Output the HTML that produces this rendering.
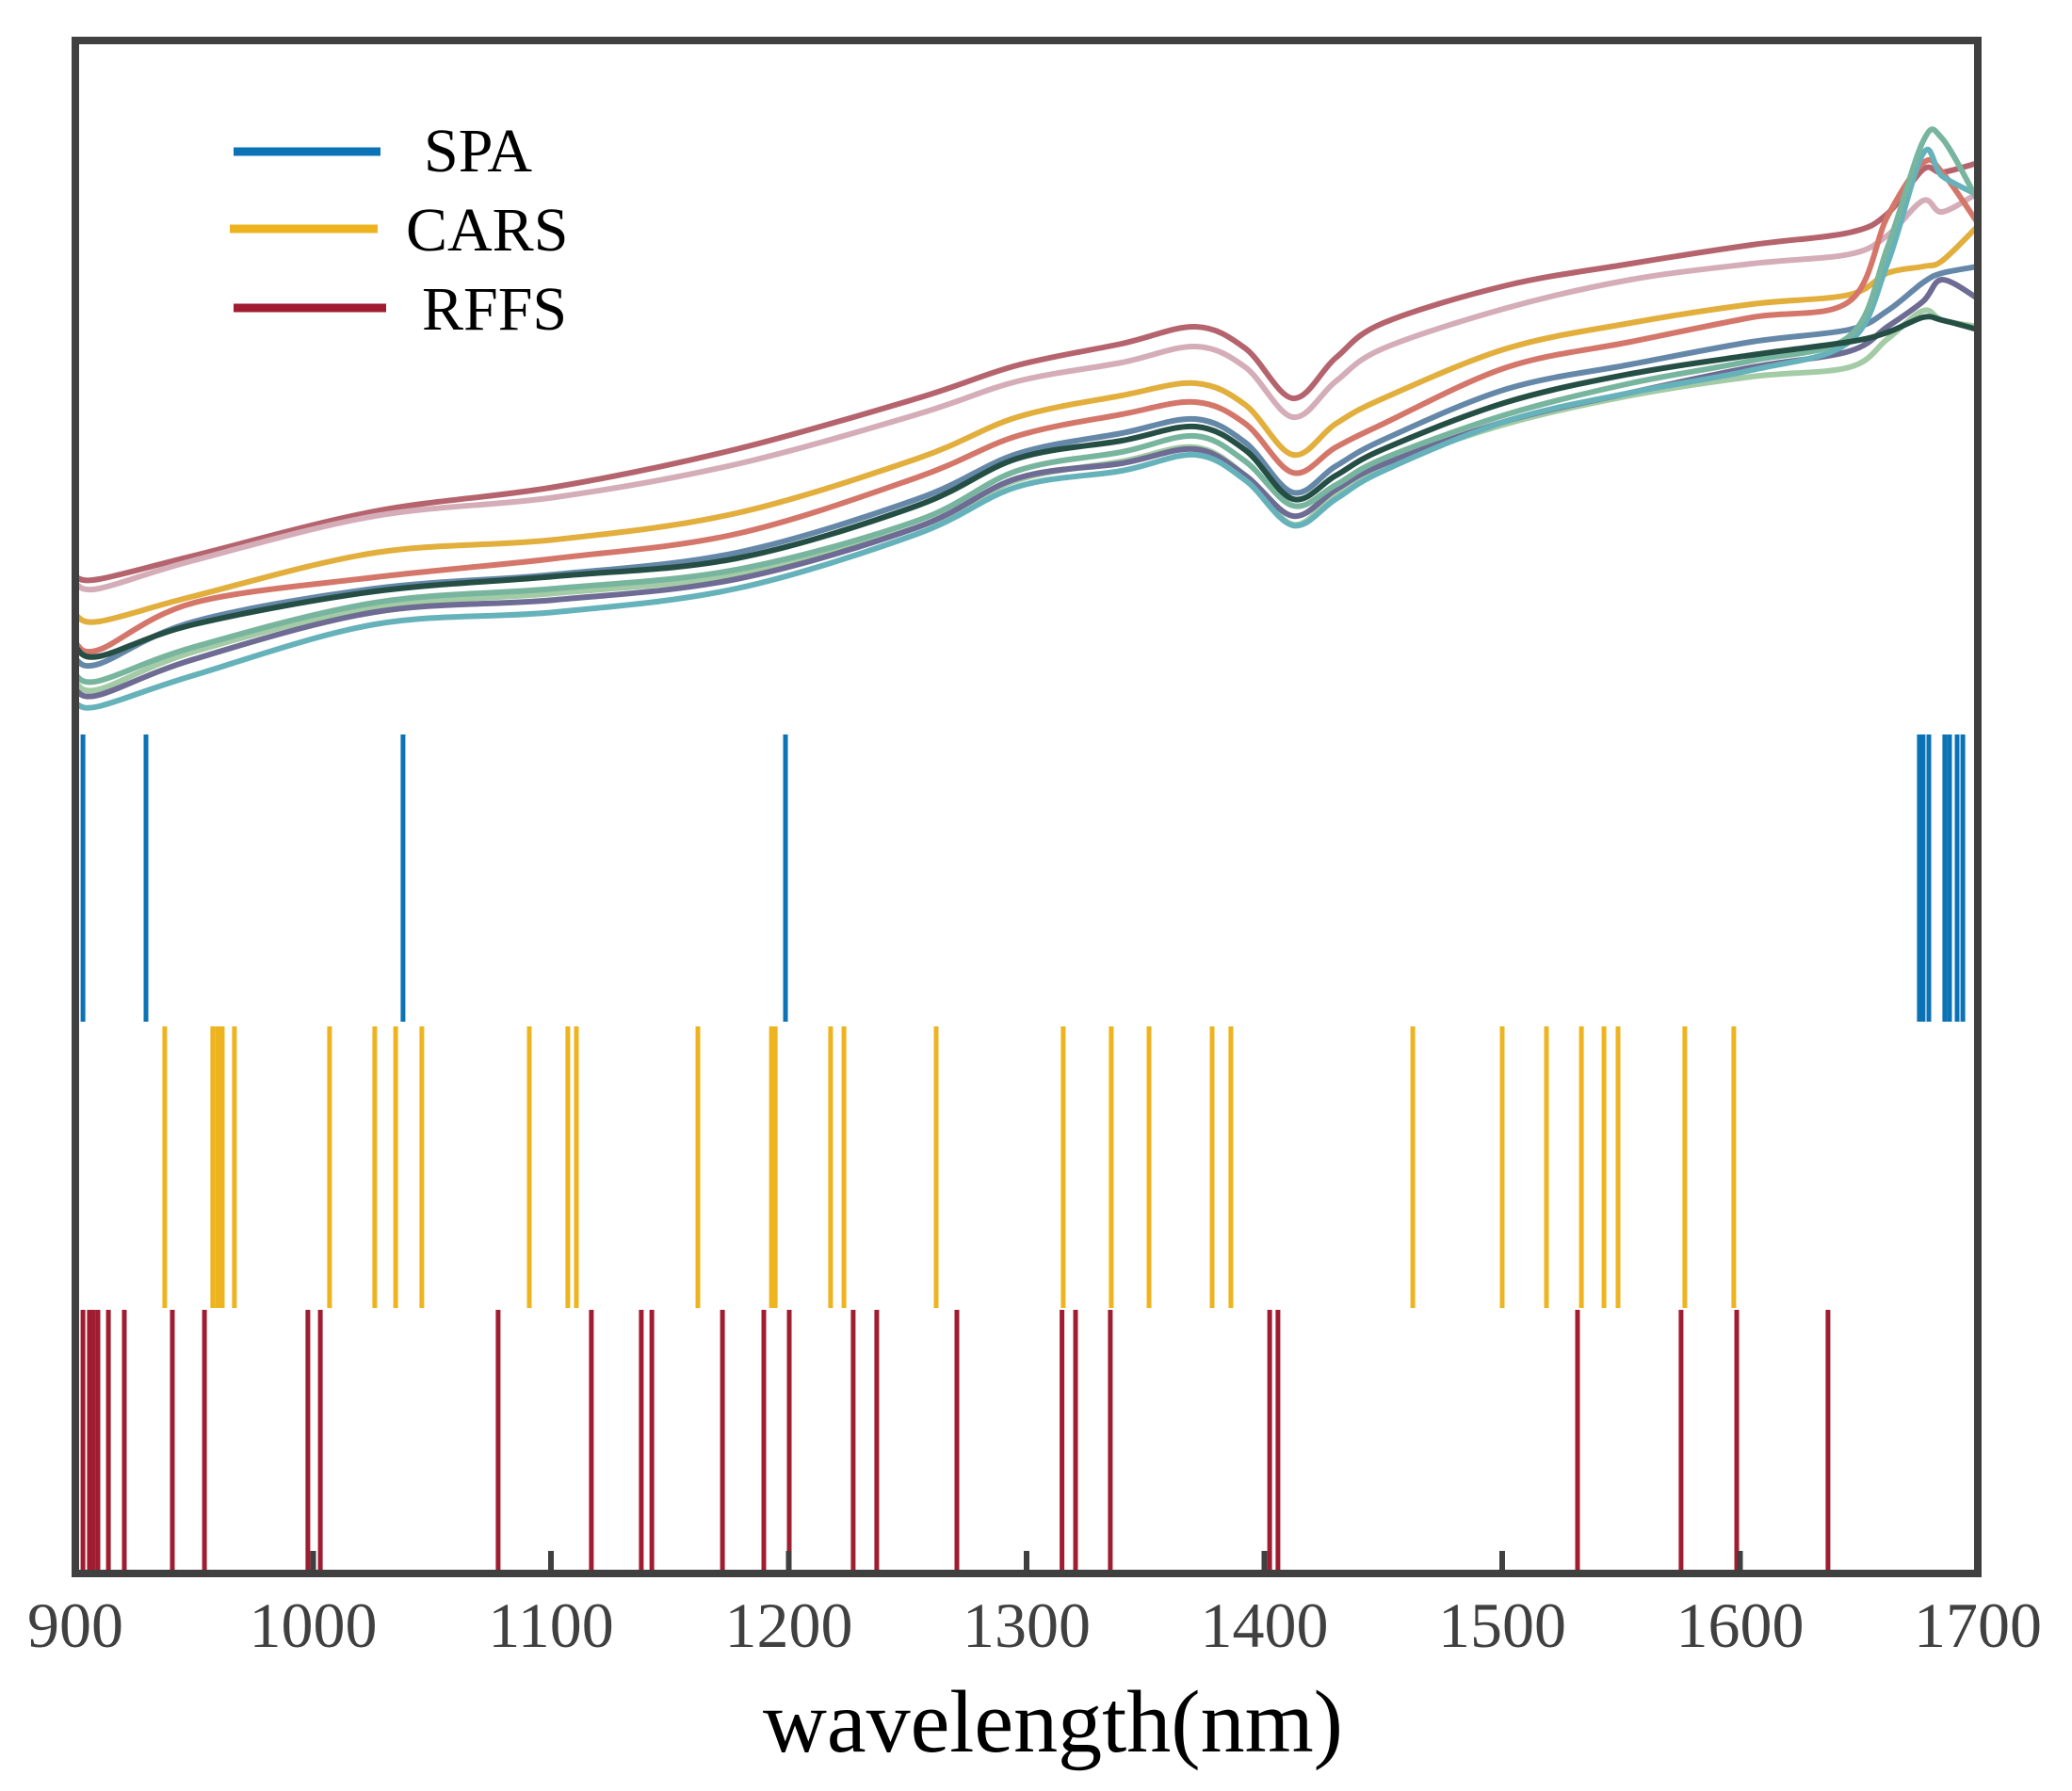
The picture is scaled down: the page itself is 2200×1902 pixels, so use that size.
<!DOCTYPE html>
<html><head><meta charset="utf-8"><style>
html,body{margin:0;padding:0;background:#fff;}
svg{display:block;}
text{font-family:"Liberation Serif","Times New Roman",serif;}
</style></head><body>
<svg id="chart" width="2200" height="1902" viewBox="0 0 2200 1902" xmlns="http://www.w3.org/2000/svg">
<rect x="0" y="0" width="2200" height="1902" fill="#fff"/>
<g id="spectra"></g>
<g id="bars"></g>
<g id="ticks"></g>
<rect x="80" y="43" width="2020" height="1628" fill="none" stroke="#404040" stroke-width="8"/>
<g id="legend">
  <g>
    <line x1="248" y1="161" x2="404" y2="161" stroke="#0b72b5" stroke-width="9"/>
    <text x="450" y="182" font-size="66" fill="#000">SPA</text>
  </g>
  <g>
    <line x1="244" y1="243" x2="401" y2="243" stroke="#eeb420" stroke-width="9"/>
    <text x="431" y="266" font-size="66" fill="#000">CARS</text>
  </g>
  <g>
    <line x1="248" y1="327" x2="410" y2="327" stroke="#a01c30" stroke-width="9"/>
    <text x="448" y="350" font-size="66" fill="#000">RFFS</text>
  </g>
</g>
<text x="1118" y="1860" font-size="94" text-anchor="middle" fill="#000">wavelength(nm)</text>
</svg>
<script>
const wavelengthKnots = [900,910,950,1026,1102,1178,1254,1296,1340,1371,1392,1412,1430,1450,1502,1554,1605,1646,1662,1677,1685,1700];
const spectrumRose   = [387,385,410,457,483,523,577,612,635,653,630,577,620,657,697,720,740,753,773,820,817,827];
const spectrumPink   = [380,375,405,452,472,507,560,595,615,632,610,557,595,630,673,703,720,730,750,787,775,795];
const spectrumYellow = [347,340,367,413,427,455,513,557,580,593,570,517,550,577,630,657,677,687,710,717,723,760];
const spectrumSalmon = [317,310,360,387,407,433,493,537,560,573,550,498,525,550,610,637,663,680,770,827,817,763];
const spectrumSteel  = [300,295,340,375,390,413,470,518,540,555,530,477,505,533,587,613,637,650,670,700,710,717];
const spectrumLightGreen = [275,268,308,355,370,390,440,490,510,525,495,443,475,505,550,580,600,610,640,670,660,653];
const spectrumPurple = [267,262,300,350,363,385,440,492,508,523,495,452,480,507,553,583,610,627,653,680,703,683];
const spectrumCyan   = [253,250,283,337,350,375,433,483,500,517,490,442,470,500,553,583,607,637,720,837,813,793];
const spectrumTeal   = [283,277,313,360,375,395,447,500,520,537,510,463,485,513,560,593,617,643,737,850,853,787];
const spectrumDark   = [313,303,337,372,388,407,463,513,532,547,522,470,495,523,573,603,623,637,647,663,660,650];
const spectrumNames = ['rose','pink','yellow','salmon','steel','light-green','purple','cyan','teal','dark-green'];
const spectrumColors = ['#b5646e','#d4adb9','#e2ae3c','#d4776a','#6588a8','#a3cba5','#6e6b94','#66b2ba','#78b59f','#254f45'];
const spaWavelengths = [903.2,929.7,1037.8,1198.6,1675.4,1677.0,1679.4,1686.1,1688.1,1691.3,1693.7];
const carsWavelengths = [937.6,957.8,959.8,961.8,966.9,1006.9,1025.9,1034.7,1045.7,1090.9,1107.1,1110.7,1161.8,1192.7,1194.3,1217.6,1223.2,1262.0,1315.4,1335.6,1351.5,1378.0,1385.9,1462.4,1500.0,1518.6,1533.3,1542.8,1548.7,1576.8,1597.4];
const rffsWavelengths = [903.2,905.9,907.5,909.5,913.9,920.6,940.8,954.3,997.8,1003.0,1077.8,1117.0,1138.0,1142.4,1172.1,1189.5,1200.2,1227.1,1237.0,1270.7,1314.9,1320.6,1335.2,1402.2,1405.7,1531.7,1575.2,1598.6,1637.0];
const xTickValues = [900,1000,1100,1200,1300,1400,1500,1600,1700];
const xTickLabels = ['900','1000','1100','1200','1300','1400','1500','1600','1700'];

const NS='http://www.w3.org/2000/svg';
function xScale(nm){return 80+(nm-900)*(2020/800);}
function yScale(v){return 1000-v;}
function mk(tag,attrs,parent){const e=document.createElementNS(NS,tag);for(const k in attrs)e.setAttribute(k,attrs[k]);parent.appendChild(e);return e;}

const allSpectra=[spectrumRose,spectrumPink,spectrumYellow,spectrumSalmon,spectrumSteel,spectrumLightGreen,spectrumPurple,spectrumCyan,spectrumTeal,spectrumDark];
const gS=document.getElementById('spectra');
allSpectra.forEach((vals,si)=>{
  const pts=wavelengthKnots.map((w,i)=>[xScale(w),yScale(vals[i])]);
  let d='M'+pts[0][0].toFixed(1)+','+pts[0][1].toFixed(1);
  for(let i=0;i<pts.length-1;i++){
    const p0=pts[Math.max(0,i-1)],p1=pts[i],p2=pts[i+1],p3=pts[Math.min(pts.length-1,i+2)];
    const c1=[p1[0]+(p2[0]-p0[0])/6,p1[1]+(p2[1]-p0[1])/6];
    const c2=[p2[0]-(p3[0]-p1[0])/6,p2[1]-(p3[1]-p1[1])/6];
    d+=' C'+c1[0].toFixed(1)+','+c1[1].toFixed(1)+' '+c2[0].toFixed(1)+','+c2[1].toFixed(1)+' '+p2[0].toFixed(1)+','+p2[1].toFixed(1);
  }
  const p=mk('path',{d:d,fill:'none',stroke:spectrumColors[si],'stroke-width':6,'stroke-linejoin':'round'},gS);
  
  
});

const gB=document.getElementById('bars');
function drawBars(list,color,y1,y2,name){
  list.forEach(w=>{
    const x=xScale(w);
    const r=mk('rect',{x:(x-2.5).toFixed(1),y:y1,width:5,height:y2-y1,fill:color},gB);
    
    
  });
}
drawBars(spaWavelengths,'#0b72b5',780,1085,'spa');
drawBars(carsWavelengths,'#eeb420',1090,1389,'cars');
drawBars(rffsWavelengths,'#a01c30',1391,1668,'rffs');

const gT=document.getElementById('ticks');
xTickValues.forEach((v,i)=>{
  const x=xScale(v);
  if(i>0&&i<xTickValues.length-1){
    const t=mk('rect',{x:(x-3).toFixed(1),y:1647,width:6,height:22,fill:'#404040'},gT);
    
    
  }
  const lb=mk('text',{x:x.toFixed(1),y:1749,'font-size':68,'text-anchor':'middle',fill:'#404040'},gT);
  lb.textContent=xTickLabels[i];
  
  
});
</script>
</body></html>
